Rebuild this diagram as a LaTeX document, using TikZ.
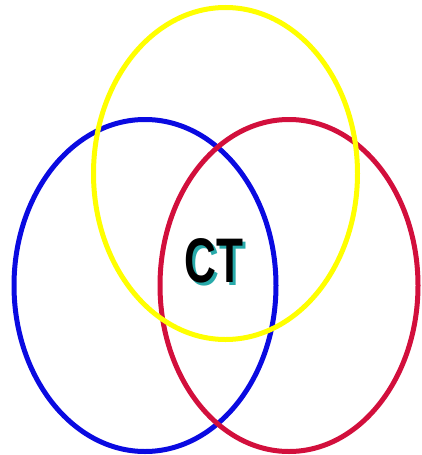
\documentclass[tikz,border=0pt]{standalone}
\usepackage{fontspec}
\setmainfont{Liberation Sans}
\usepackage{graphicx}
\definecolor{ringyellow}{RGB}{255,255,0}
\definecolor{ringblue}{RGB}{10,10,225}
\definecolor{ringred}{RGB}{210,15,60}
\definecolor{ctshade}{RGB}{40,170,170}
% black letters with a shifted teal copy behind them
\newcommand{\ctlabel}{\scalebox{0.7}[1]{\fontsize{63}{63}\selectfont\bfseries
	\rlap{\hspace{4pt}\raisebox{-3pt}{\color{ctshade}CT}}CT}}
\begin{document}
\begin{tikzpicture}[x=1pt,y=-1pt, ring/.style={line width=5pt}]
		\useasboundingbox (0,0) rectangle (421,455);
		\draw[ring, ringblue] (145,285.5) ellipse [x radius=131, y radius=166];
		\draw[ring, ringred] (289,285.5) ellipse [x radius=129, y radius=166];
		\draw[ring, ringyellow] (225.5,173.5) ellipse [x radius=132, y radius=166];
		\node[black, inner sep=0] (ct) at (214,262) {\ctlabel};
	\end{tikzpicture}
\end{document}
